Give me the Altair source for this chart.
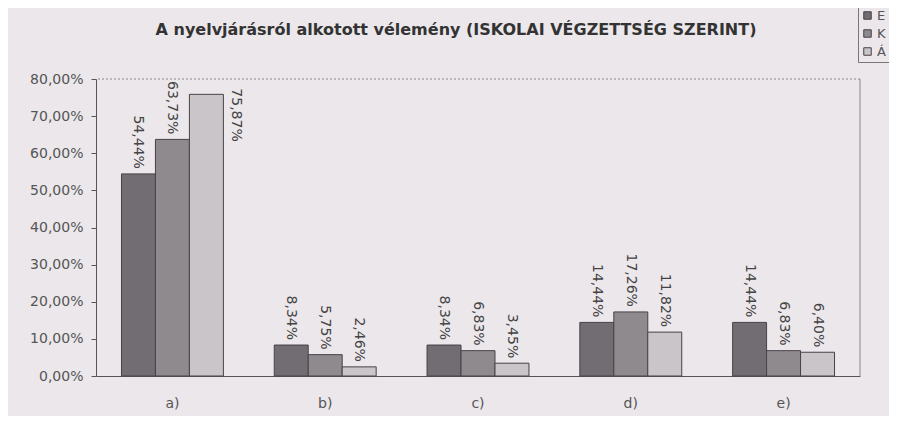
import altair as alt
import pandas as pd

categories = ["a)", "b)", "c)", "d)", "e)"]
series = ["E", "K", "Á"]
values_E = [54.44, 8.34, 8.34, 14.44, 14.44]
values_K = [63.73, 5.75, 6.83, 17.26, 6.83]
values_A = [75.87, 2.46, 3.45, 11.82, 6.40]
series_colors = ["#716d73", "#8e8a8e", "#c9c5c9"]
y_ticks = [0, 0.1, 0.2, 0.3, 0.4, 0.5, 0.6, 0.7, 0.8]
title_text = "A nyelvjárásról alkotott vélemény (ISKOLAI VÉGZETTSÉG SZERINT)"

rows = []
for s, vals in zip(series, [values_E, values_K, values_A]):
    for c, v in zip(categories, vals):
        rows.append({"cat": c, "series": s, "value": v / 100})
df = pd.DataFrame(rows)

W, H = 764, 297
FONT = "DejaVu Sans"
label_expr = "replace(format(datum.value, '.2%'), '.', ',')"

y_scale = alt.Scale(domain=[0, 0.8], nice=False)
y_axis = alt.Axis(
    title=None, values=y_ticks, labelExpr=label_expr, grid=False,
    labelOverlap=False, tickCount=9,
    domainColor="#555555", tickColor="#555555", tickSize=5,
    labelPadding=8, labelFontSize=14, labelColor="#555555", labelFont=FONT,
)

base = alt.Chart(df).encode(
    x=alt.X(
        "cat:N",
        sort=categories,
        scale=alt.Scale(paddingInner=0.333, paddingOuter=0.1667),
        axis=alt.Axis(
            title=None, labelAngle=0, ticks=False, domainColor="#555555",
            labelPadding=20, labelFontSize=14, labelColor="#555555", labelFont=FONT,
        ),
    ),
    xOffset=alt.XOffset("series:N", sort=series,
                        scale=alt.Scale(paddingInner=0, paddingOuter=0)),
    y=alt.Y("value:Q", scale=y_scale, axis=y_axis),
)

bars = base.mark_bar(stroke="#4a4048", strokeWidth=1).encode(
    color=alt.Color(
        "series:N",
        sort=series,
        scale=alt.Scale(domain=series, range=series_colors),
        legend=alt.Legend(
            title=None, orient="none", legendX=762, legendY=-73,
            symbolType="square", symbolSize=56, symbolStrokeColor="#4a4048",
            symbolStrokeWidth=1, labelFontSize=13, labelFont=FONT,
            labelOffset=3,
            labelColor="#555555", rowPadding=4, padding=3, strokeColor="#777777",
        ),
    )
)

labels_small = (
    base.transform_calculate(label=label_expr)
    .transform_filter("datum.value < 0.7")
    .mark_text(angle=90, align="right", baseline="middle", dx=-5,
               fontSize=14, color="#444444", font=FONT)
    .encode(text="label:N")
)

labels_big = (
    base.transform_calculate(label=label_expr)
    .transform_filter("datum.value >= 0.7")
    .mark_text(angle=90, align="left", baseline="middle", dx=-6, dy=-30,
               fontSize=14, color="#444444", font=FONT)
    .encode(text="label:N")
)

top_df = pd.DataFrame({"value": [0.8], "title": [title_text]})
top_rule = alt.Chart(top_df).mark_rule(color="#888888", strokeDash=[2, 2]).encode(
    y=alt.Y("value:Q", scale=y_scale, axis=y_axis)
)
right_rule = alt.Chart(top_df).mark_rule(color="#888888").encode(
    x=alt.value(W), y=alt.value(0), y2=alt.value(H)
)
title_mark = alt.Chart(top_df).mark_text(
    fontSize=16, fontWeight="bold", font=FONT, color="#333333",
    align="center", baseline="alphabetic",
).encode(x=alt.value(360), y=alt.value(-44), text="title:N")

chart = (
    alt.layer(bars, labels_small, labels_big, top_rule, right_rule, title_mark)
    .properties(
        width=W,
        height=H,
        padding={"left": 88, "top": 71, "right": 29, "bottom": 40},
        autosize=alt.AutoSizeParams(type="none"),
        background="#ebe7eb",
    )
    .configure_view(stroke=None)
)

chart.save("out.html", embed_options={"renderer": "svg", "actions": False})
